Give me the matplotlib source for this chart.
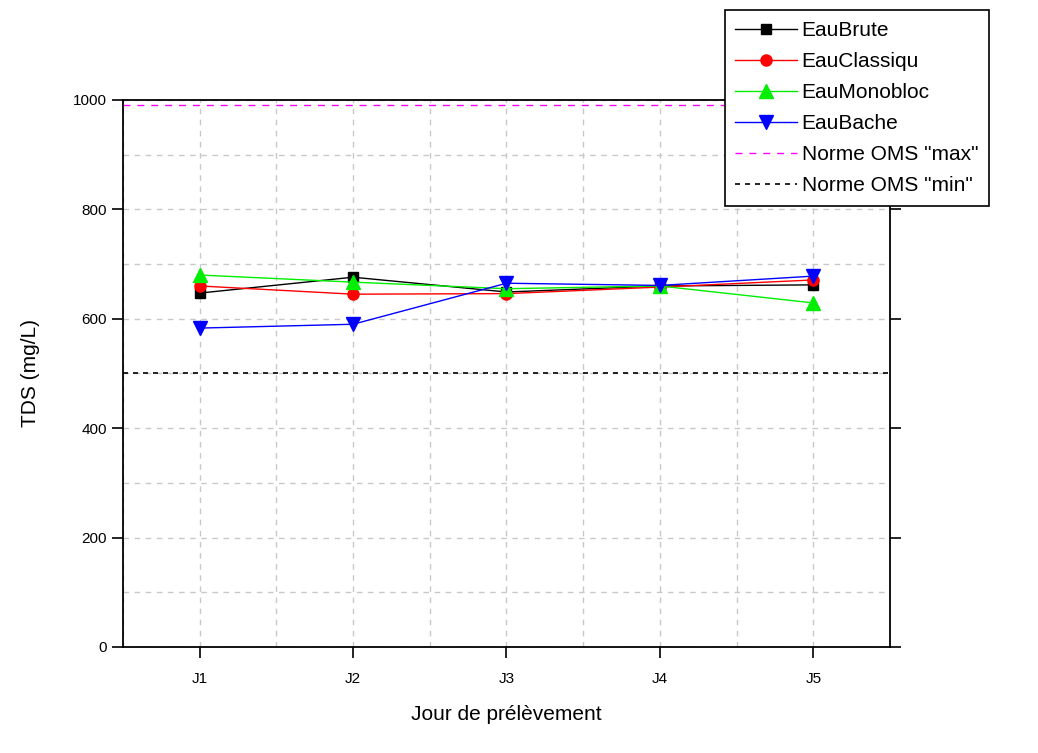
import matplotlib.pyplot as plt
from matplotlib.ticker import MultipleLocator

plt.rcParams['font.family'] = ['Liberation Sans', 'DejaVu Sans']

jours = ['J1', 'J2', 'J3', 'J4', 'J5']
eau_brute = [647, 676, 649, 660, 662]
eau_classiqu = [660, 645, 646, 658, 671]
eau_monobloc = [680, 667, 655, 660, 629]
eau_bache = [583, 590, 665, 661, 678]
norme_max = 990
norme_min = 500

x = list(range(1, len(jours) + 1))

fig = plt.figure(figsize=(10.38, 7.53), dpi=100)
ax = fig.add_axes([0.1185, 0.1408, 0.7389, 0.7264])

ax.plot(x, eau_brute, color='black', marker='s', ms=7, lw=1, label='EauBrute')
ax.plot(x, eau_classiqu, color='red', marker='o', ms=8, lw=1, label='EauClassiqu')
ax.plot(x, eau_monobloc, color='#00ee00', marker='^', ms=10, lw=1, label='EauMonobloc')
ax.plot(x, eau_bache, color='blue', marker='v', ms=10, lw=1, label='EauBache')
ax.axhline(norme_max, color='magenta', ls=(0, (5, 5)), lw=1, label='Norme OMS "max"')
ax.axhline(norme_min, color='black', ls=(0, (3, 3)), lw=1.2, label='Norme OMS "min"')

ax.set_xlim(0.5, 5.5)
ax.set_ylim(0, 1000)
ax.set_xticks(x)
ax.set_xticklabels(jours)
ax.xaxis.set_minor_locator(MultipleLocator(0.5))
ax.yaxis.set_major_locator(MultipleLocator(200))
ax.yaxis.set_minor_locator(MultipleLocator(100))
ax.grid(True, which='both', color='#c8c8c8', ls=(0, (4, 4)), lw=1)
ax.tick_params(which='major', direction='out', length=8, width=1.2, labelsize=11, right=True)
ax.tick_params(which='minor', length=0)
ax.tick_params(axis='x', pad=10)
for s in ax.spines.values():
    s.set_linewidth(1.3)

ax.set_xlabel('Jour de prélèvement', fontsize=15, labelpad=14)
ax.set_ylabel('TDS (mg/L)', fontsize=15, labelpad=24)

leg = fig.legend(loc='upper left', bbox_to_anchor=(0.688, 1.0), fontsize=15,
                 frameon=True, fancybox=False, edgecolor='black', framealpha=1,
                 handlelength=3.0, handletextpad=0.2, labelspacing=0.58,
                 borderpad=0.5)
leg.get_frame().set_linewidth(1.2)

fig.savefig('out.png', dpi=100)
